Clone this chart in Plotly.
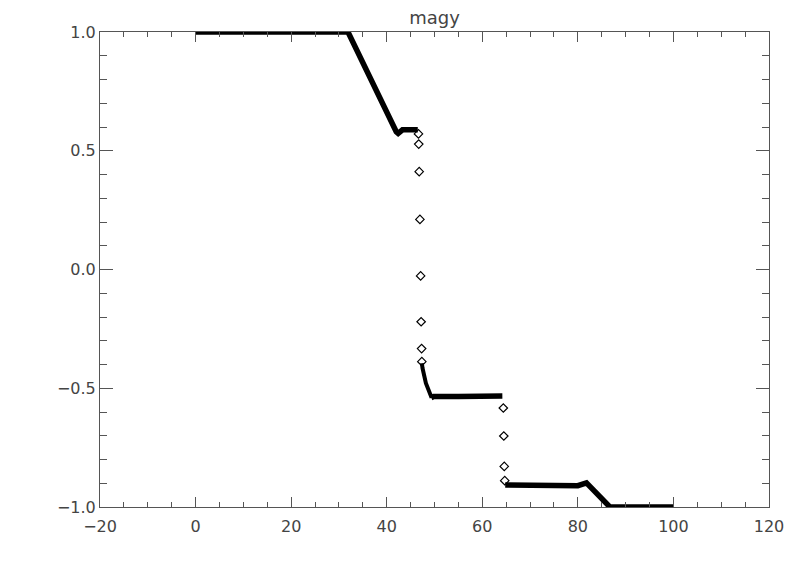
import plotly.graph_objects as go

# Dense (solid-looking) segments: breakpoints
seg1_x = [0.0, 31.9, 42.0, 42.4, 43.3, 46.5]
seg1_y = [1.0, 1.0, 0.580, 0.573, 0.588, 0.588]

tail_x = [47.35, 47.5, 48.2, 48.7, 49.0, 49.4]
tail_y = [-0.395, -0.416, -0.479, -0.507, -0.528, -0.540]

seg2_x = [49.3, 49.8, 55.0, 60.0, 64.2]
seg2_y = [-0.540, -0.535, -0.535, -0.535, -0.533]

seg3_x = [64.8, 70.0, 75.0, 80.0, 81.8, 86.7, 100.0]
seg3_y = [-0.907, -0.908, -0.912, -0.910, -0.898, -1.0, -1.0]

# Isolated points inside the two jumps
jump1_x = [46.65, 46.70, 46.80, 46.95, 47.10, 47.20, 47.30, 47.35]
jump1_y = [0.571, 0.528, 0.412, 0.211, -0.027, -0.220, -0.333, -0.388]

jump2_x = [64.4, 64.5, 64.6, 64.7]
jump2_y = [-0.583, -0.701, -0.829, -0.889]

x_ticks = [-20, 0, 20, 40, 60, 80, 100, 120]
y_ticks = [-1.0, -0.5, 0.0, 0.5, 1.0]

fig = go.Figure()
for sx, sy, w in [(seg1_x, seg1_y, 5.5), (tail_x, tail_y, 4), (seg2_x, seg2_y, 5.5), (seg3_x, seg3_y, 5.5)]:
    fig.add_trace(go.Scatter(x=sx, y=sy, mode="lines",
                             line=dict(color="black", width=w),
                             hoverinfo="skip", showlegend=False))
for jx, jy in [(jump1_x, jump1_y), (jump2_x, jump2_y)]:
    fig.add_trace(go.Scatter(x=jx, y=jy, mode="markers",
                             marker=dict(symbol="diamond-open", size=6.5,
                                         color="black", line=dict(width=1.2, color="black")),
                             showlegend=False, cliponaxis=False))

axis_common = dict(showgrid=False, zeroline=False, showline=True,
                   linecolor="#555555", linewidth=1, mirror="ticks",
                   ticks="inside", tickcolor="#555555", tickwidth=1,
                   tickfont=dict(family="DejaVu Sans", size=16, color="#444444"))

# The page body has an 8px margin, so the figure is drawn at (8, 8)
fig.update_layout(
    width=792, height=563,
    margin=dict(l=92, r=31, t=24, b=64),
    paper_bgcolor="white", plot_bgcolor="white",
    title=dict(text="magy", x=(434.5 - 8) / 792, xanchor="center",
               yref="container", y=0.983, yanchor="middle",
               font=dict(family="DejaVu Sans", size=18, color="#444444")),
    xaxis=dict(range=[-20, 120], tickvals=x_ticks, ticklen=10, ticklabelstandoff=5,
               minor=dict(dtick=5, ticklen=5, ticks="inside", tickcolor="#555555"),
               **axis_common),
    yaxis=dict(range=[-1, 1], tickvals=y_ticks, tickformat=".1f", ticklen=13,
               minor=dict(dtick=0.1, ticklen=7, ticks="inside", tickcolor="#555555"),
               **axis_common),
)

fig.write_html("out.html")
